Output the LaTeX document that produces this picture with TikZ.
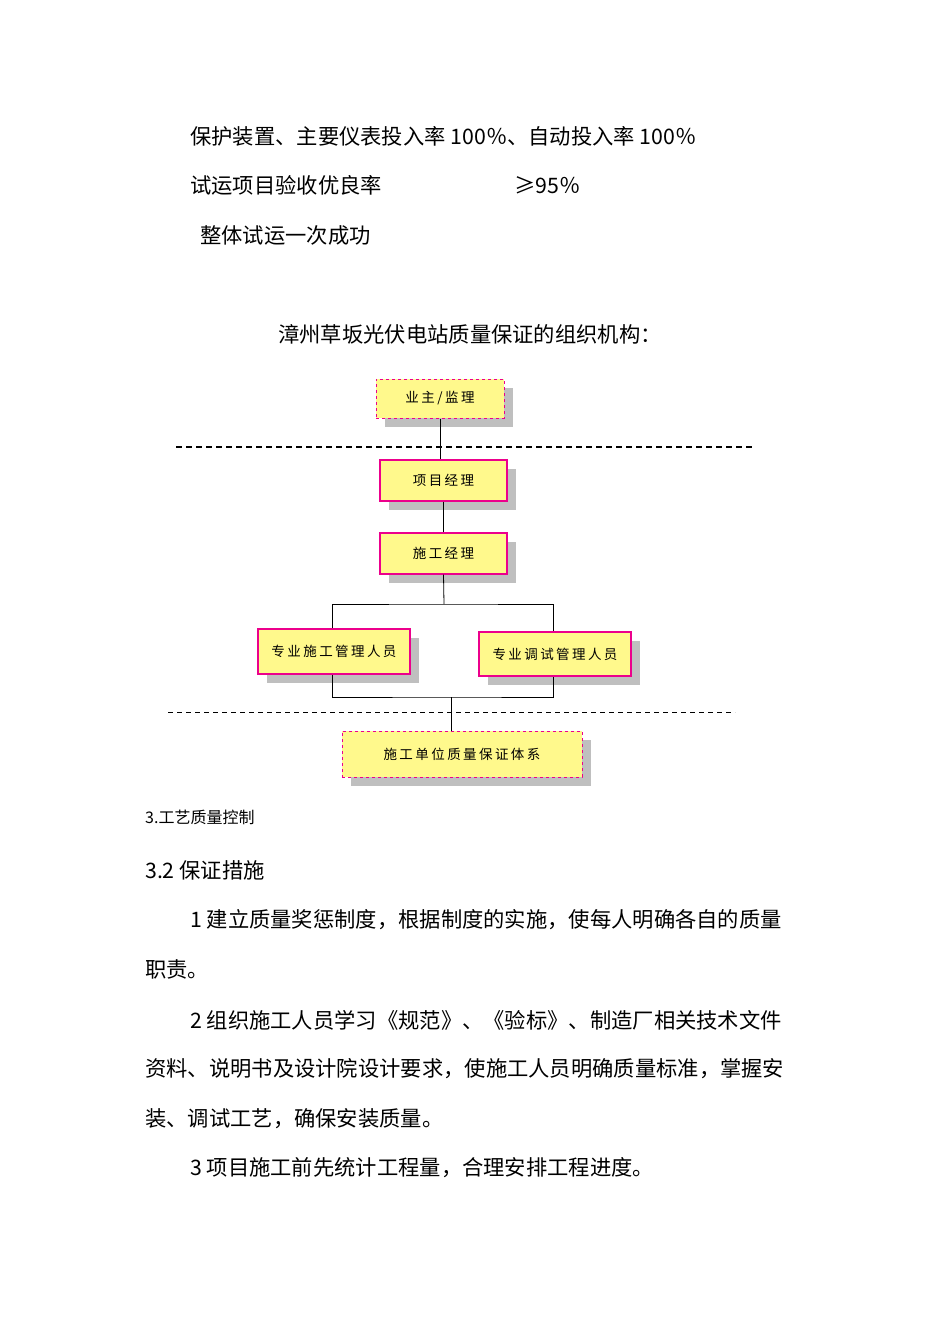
\documentclass[tikz,border=0pt]{standalone}
\usepackage{fontspec}
\setmainfont{Noto Sans CJK SC}
\newfontfamily\boxfont[LetterSpace=18]{Noto Sans CJK SC}
\begin{document}
\begin{tikzpicture}[x=1pt,y=-1pt,
  txt/.style={anchor=west,inner sep=0,font=\fontsize{21.3}{21.3}\selectfont},
  bx/.style={draw=magenta,line width=1.2pt,fill=yellow!45,inner sep=0,font=\boxfont\fontsize{13.5}{13.5}\selectfont},
  dbx/.style={bx,dashed,line width=1pt},
  shd/.style={fill=black!25,draw=none},
  ln/.style={draw=black,line width=0.8pt}]
\useasboundingbox (0,0) rectangle (950,1344);
\fill[white] (0,0) rectangle (950,1344);
\node[txt] (t1) at (190,136) {保护装置、主要仪表投入率 100％、自动投入率 100％};
\node[txt] (t2) at (190,185) {试运项目验收优良率};
\node[txt] (t2b) at (514,185) {≥95％};
\node[txt] (t3) at (200,235) {整体试运一次成功};
\node[txt,anchor=center] (title) at (470,334) {漳州草坂光伏电站质量保证的组织机构：};
% shadows
\fill[shd] (385,388) rectangle (513,427);
\fill[shd] (389,469) rectangle (516,510);
\fill[shd] (389,542) rectangle (516,583);
\fill[shd] (267,638) rectangle (419,683);
\fill[shd] (488,641) rectangle (640,685);
\fill[shd] (351,740) rectangle (591,786);
% dashed separators
\draw[dashed,line width=1.6pt,dash pattern=on 6pt off 4pt] (176,447) coordinate (d1a) -- (752,447) coordinate (d1b);
\draw[dashed,line width=1pt,dash pattern=on 5pt off 4pt] (168,712) coordinate (d2a) -- (735,712) coordinate (d2b);
% boxes
\node[dbx,minimum width=128,minimum height=39] (owner) at (440,398.5) {业主/监理};
\node[bx,minimum width=127,minimum height=41] (pm) at (443.5,480.5) {项目经理};
\node[bx,minimum width=127,minimum height=41] (cm) at (443.5,553.5) {施工经理};
\node[bx,minimum width=152,minimum height=45] (s1) at (334,651.5) {专业施工管理人员};
\node[bx,minimum width=152,minimum height=44] (s2) at (555,654) {专业调试管理人员};
\node[dbx,minimum width=240,minimum height=46] (sys) at (462,754) {施工单位质量保证体系};
% connectors
\coordinate (j1) at (444,604);
\coordinate (j2) at (451,697);
\draw[ln] (owner.south) -- (pm.north -| owner.south);
\draw[ln] (pm) -- (cm);
\draw[ln] (cm.south) -- (j1);
\draw[ln] (s1.north -| 332,0) |- (j1) -| (s2.north -| 553,0);
\draw[ln] (s1.south -| 332,0) |- (j2) -| (s2.south -| 553,0);
\draw[ln] (j2) -- (sys.north -| j2);
% lower text
\node[txt,font=\fontsize{16}{16}\selectfont] (h1) at (145,817) {3.工艺质量控制};
\node[txt] (h2) at (145,870) {3.2 保证措施};
\node[txt] (p1) at (190,920) {1 建立质量奖惩制度，根据制度的实施，使每人明确各自的质量};
\node[txt] (p1b) at (145,969) {职责。};
\node[txt] (p2) at (190,1020) {2 组织施工人员学习《规范》、《验标》、制造厂相关技术文件};
\node[txt] (p2b) at (145,1069) {资料、说明书及设计院设计要求，使施工人员明确质量标准，掌握安};
\node[txt] (p2c) at (145,1119) {装、调试工艺，确保安装质量。};
\node[txt] (p3) at (190,1168) {3 项目施工前先统计工程量，合理安排工程进度。};
\end{tikzpicture}
\end{document}
